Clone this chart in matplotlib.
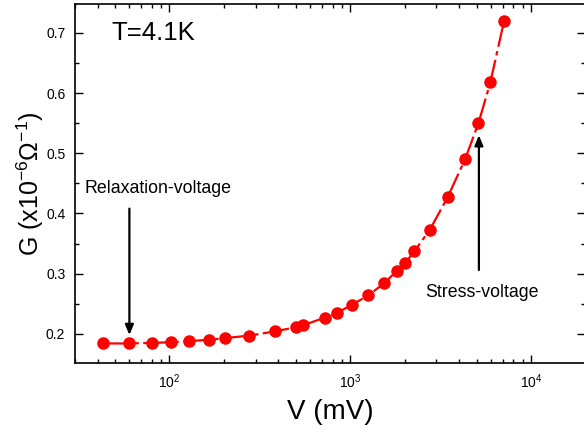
import numpy as np
import matplotlib
matplotlib.use("Agg")
import matplotlib.pyplot as plt
from matplotlib.ticker import MultipleLocator, LogLocator

plt.rcParams['font.family'] = ['Liberation Sans', 'DejaVu Sans']
plt.rcParams['mathtext.fontset'] = 'custom'
plt.rcParams['mathtext.rm'] = 'Liberation Sans'
plt.rcParams['mathtext.it'] = 'Liberation Sans:italic'
plt.rcParams['mathtext.bf'] = 'Liberation Sans:bold'

# data
voltage = [43, 60, 80, 102, 128, 166, 204, 276, 382, 503, 545, 725, 847, 1019,
           1261, 1539, 1816, 2017, 2261, 2756, 3459, 4330, 5120, 5960, 7100]
conductance = [0.184, 0.184, 0.185, 0.186, 0.188, 0.190, 0.193, 0.197, 0.204,
               0.211, 0.214, 0.227, 0.235, 0.248, 0.264, 0.284, 0.305, 0.318,
               0.337, 0.373, 0.427, 0.491, 0.550, 0.618, 0.720]

relax_v = 60
stress_v = 5150

fig = plt.figure(figsize=(5.84, 4.37), dpi=100)
ax = fig.add_axes([0.1284, 0.170, 0.874, 0.8208])

ax.plot(voltage, conductance, color='red', lw=1.6, dashes=[12, 2, 2, 2],
        marker='o', markersize=8, markerfacecolor='red', markeredgecolor='red')

ax.set_xscale('log')
ax.set_xlim(30, 2e4)
ax.set_ylim(0.152, 0.748)

ax.yaxis.set_major_locator(MultipleLocator(0.1))
ax.yaxis.set_minor_locator(MultipleLocator(0.05))
ax.xaxis.set_major_locator(LogLocator(base=10))
ax.xaxis.set_minor_locator(LogLocator(base=10, subs=np.arange(2, 10)))

ax.tick_params(which='both', direction='in', top=True, right=True, width=1.0)
ax.tick_params(which='major', length=6, labelsize=10, pad=7)
ax.tick_params(which='minor', length=3)
for sp in ax.spines.values():
    sp.set_linewidth(1.2)

ax.set_xlabel('V (mV)', fontsize=20, labelpad=6)
ax.set_ylabel('G (x10$^{-6}$Ω$^{-1}$)', fontsize=18, labelpad=0)

ax.text(47.7, 0.70, 'T=4.1K', fontsize=18.5, va='center', ha='left')
ax.text(33.8, 0.441, 'Relaxation-voltage', fontsize=12.8, va='center', ha='left')
ax.text(2588, 0.269, 'Stress-voltage', fontsize=12.8, va='center', ha='left')

arrow_style = dict(arrowstyle='-|>,head_length=0.6,head_width=0.25',
                   color='black', lw=1.6, shrinkA=0, shrinkB=0)
ax.annotate('', xy=(relax_v, 0.198), xytext=(relax_v, 0.408), arrowprops=arrow_style)
ax.annotate('', xy=(stress_v, 0.53), xytext=(stress_v, 0.306), arrowprops=arrow_style)

fig.savefig('out.png', dpi=100)
